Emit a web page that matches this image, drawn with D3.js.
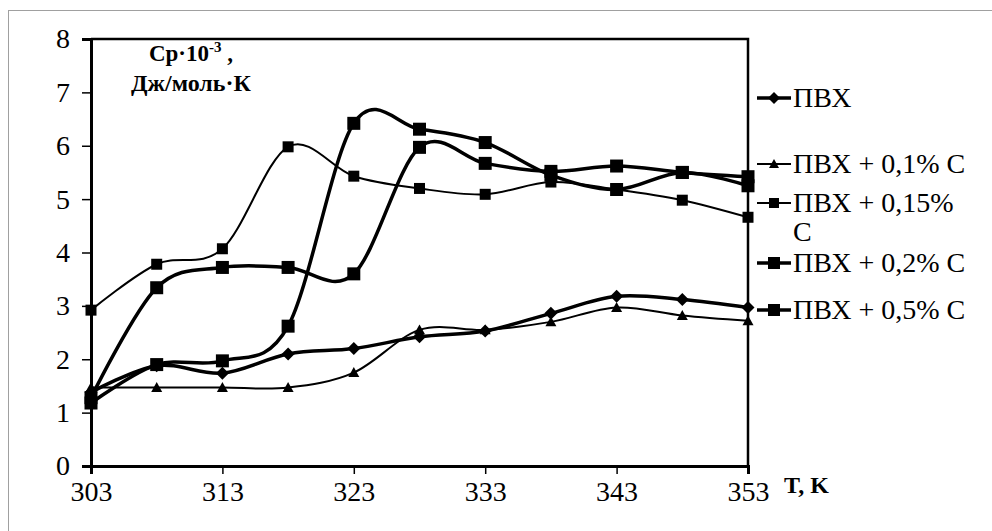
<!DOCTYPE html>
<html lang="ru">
<head>
<meta charset="UTF-8">
<title>Cp ПВХ</title>
<script src="https://d3js.org/d3.v7.min.js"></script>
<style>
  body { margin: 0; background: #fff; }
  text { font-family: "Liberation Serif", "Times New Roman", serif; fill: #000; }
</style>
</head>
<body>
<div id="chart"></div>
<script>
// temperatures, K
const temps = [303, 308, 313, 318, 323, 328, 333, 338, 343, 348, 353];
// Cp*10^-3, J/(mol*K)
const pvc    = [1.38, 1.88, 1.74, 2.10, 2.20, 2.42, 2.53, 2.86, 3.18, 3.12, 2.97];
const pvc01  = [1.47, 1.47, 1.47, 1.47, 1.75, 2.55, 2.55, 2.70, 2.97, 2.82, 2.72];
const pvc015 = [2.92, 3.78, 4.07, 5.98, 5.43, 5.20, 5.09, 5.32, 5.18, 4.98, 4.66];
const pvc02  = [1.28, 3.34, 3.72, 3.72, 3.60, 5.97, 5.67, 5.52, 5.62, 5.50, 5.42];
const pvc05  = [1.18, 1.90, 1.97, 2.62, 6.42, 6.31, 6.06, 5.45, 5.18, 5.50, 5.25];
const xTicks = [303, 313, 323, 333, 343, 353];
const yTicks = [0, 1, 2, 3, 4, 5, 6, 7, 8];

const seriesNames = ["ПВХ", "ПВХ + 0,1% С", "ПВХ + 0,15% С", "ПВХ + 0,2% С", "ПВХ + 0,5% С"];
const series = [
  {name: seriesNames[0], values: pvc,    marker: "diamond",  lw: 3.5, ms: 13},
  {name: seriesNames[1], values: pvc01,  marker: "triangle", lw: 2,   ms: 11},
  {name: seriesNames[2], values: pvc015, marker: "square",   lw: 2,   ms: 11},
  {name: seriesNames[3], values: pvc02,  marker: "square",   lw: 3.5, ms: 13},
  {name: seriesNames[4], values: pvc05,  marker: "square",   lw: 3.5, ms: 13}
];

const W = 992, H = 531;
const PLOT = {LEFT: 91, TOP: 39, RIGHT: 748, BOTTOM: 466};

const svg = d3.select("#chart").append("svg")
  .attr("width", W)
  .attr("height", H);

// outer chart border (only top and left fit in the picture)
svg.append("rect")
  .attr("x", 8.5).attr("y", 10.5)
  .attr("width", 1000).attr("height", 600)
  .attr("fill", "none")
  .attr("stroke", "#a0a0a0")
  .attr("stroke-width", 1);

const x = d3.scaleLinear().domain([303, 353]).range([PLOT.LEFT, PLOT.RIGHT]);
const y = d3.scaleLinear().domain([0, 8]).range([PLOT.BOTTOM, PLOT.TOP]);

// frame top + right
svg.append("path")
  .attr("d", `M${PLOT.LEFT},${PLOT.TOP}H${PLOT.RIGHT}V${PLOT.BOTTOM}`)
  .attr("fill", "none")
  .attr("stroke", "#000")
  .attr("stroke-width", 2.5);

const yAxis = svg.append("g")
  .attr("transform", `translate(${PLOT.LEFT},0)`)
  .call(d3.axisLeft(y).tickValues(yTicks).tickSize(9).tickPadding(12).tickFormat(d3.format("d")));
const xAxis = svg.append("g")
  .attr("transform", `translate(0,${PLOT.BOTTOM})`)
  .call(d3.axisBottom(x).tickValues(xTicks).tickSize(8).tickPadding(7).tickFormat(d3.format("d")));

[yAxis, xAxis].forEach(a => {
  a.select(".domain").attr("stroke-width", 3);
  a.selectAll(".tick line").attr("stroke-width", 1.5);
  a.selectAll(".tick text").style("font-family", "Liberation Serif").attr("font-size", 28).attr("fill", "#000");
});

function markerPath(type, size) {
  const s = size / 2;
  if (type === "diamond") return `M0,${-s}L${s},0L0,${s}L${-s},0Z`;
  if (type === "triangle") return `M0,${-s}L${s},${s * 0.8}L${-s},${s * 0.8}Z`;
  return `M${-s},${-s}H${s}V${s}H${-s}Z`;
}

const line = d3.line()
  .x((d, i) => x(temps[i]))
  .y(d => y(d))
  .curve(d3.curveCardinal.tension(0));

const g = svg.append("g");
series.forEach(s => {
  g.append("path")
    .datum(s.values)
    .attr("d", line)
    .attr("fill", "none")
    .attr("stroke", "#000")
    .attr("stroke-width", s.lw);
});
series.forEach(s => {
  g.selectAll(null)
    .data(s.values)
    .enter().append("path")
    .attr("transform", (d, i) => `translate(${x(temps[i])},${y(d)})`)
    .attr("d", markerPath(s.marker, s.ms));
});

// axis titles
const ttl = svg.append("text")
  .attr("x", 191).attr("y", 61)
  .attr("text-anchor", "middle")
  .attr("font-weight", "bold")
  .attr("font-size", 23);
ttl.append("tspan").text("Cp·10");
ttl.append("tspan").attr("dy", -9).attr("font-size", 15).text("-3");
ttl.append("tspan").attr("dy", 9).text(" ,");
svg.append("text")
  .attr("x", 191).attr("y", 91)
  .attr("text-anchor", "middle")
  .attr("font-weight", "bold")
  .attr("font-size", 24)
  .text("Дж/моль·К");
svg.append("text")
  .attr("x", 784).attr("y", 493)
  .attr("font-weight", "bold")
  .attr("font-size", 24)
  .text("T, K");

// legend
const legendRows = [98, 164, 203, 263, 310];
const LX = 757;
series.forEach((s, i) => {
  const ly = legendRows[i];
  const lg = svg.append("g");
  lg.append("line")
    .attr("x1", LX).attr("x2", LX + 34)
    .attr("y1", ly).attr("y2", ly)
    .attr("stroke", "#000")
    .attr("stroke-width", s.lw);
  lg.append("path")
    .attr("transform", `translate(${LX + 17},${ly})`)
    .attr("d", markerPath(s.marker, s.ms - 1));
  if (i === 2) {
    const t = lg.append("text").attr("x", LX + 36).attr("y", ly + 9).attr("font-size", 28);
    t.append("tspan").text("ПВХ + 0,15%");
    t.append("tspan").attr("x", LX + 36).attr("dy", 29).text("С");
  } else {
    lg.append("text")
      .attr("x", LX + 36).attr("y", ly + 9)
      .attr("font-size", 28)
      .text(s.name);
  }
});
</script>
</body>
</html>
